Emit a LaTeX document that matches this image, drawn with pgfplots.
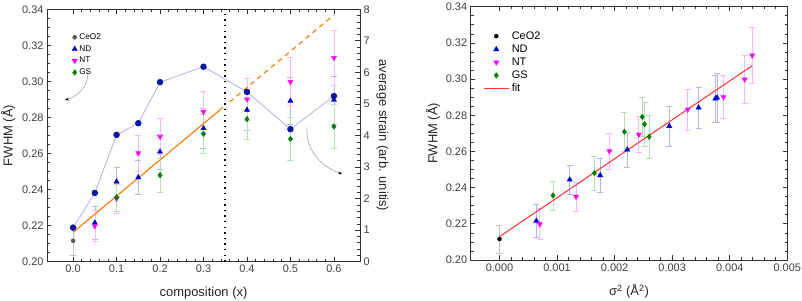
\documentclass[border=0pt]{standalone}
\usepackage{pgfplots}
\pgfplotsset{compat=1.18}
\usepackage{pgfplotstable}
\usepackage{fontspec}
\setmainfont{Liberation Sans}
\usetikzlibrary{arrows.meta}
\definecolor{axgray}{HTML}{303038}
\definecolor{tickgray}{HTML}{404040}
\definecolor{ndblue}{HTML}{0000CC}
\definecolor{ntmag}{HTML}{FF00FF}
\definecolor{gsgreen}{HTML}{008000}
\definecolor{ceogray}{HTML}{555555}
\definecolor{ndlight}{HTML}{B4B4EC}
\definecolor{ntlight}{HTML}{FFB4FF}
\definecolor{gslight}{HTML}{B4E0B4}
\definecolor{celight}{HTML}{C0C0C0}
\definecolor{strainblue}{HTML}{0A169E}
\definecolor{strainline}{HTML}{B0B0E8}
\definecolor{fitorange}{HTML}{FF8010}
\definecolor{fitred}{HTML}{FF3030}

% x = composition, y = FWHM, e = error, s = sigma^2
\pgfplotstableread{
x y e s
0.00 0.2116 0.0078 0.00000
}\ceotable
\pgfplotstableread{
x y e s
0.05 0.2216 0.0090 0.00064
0.10 0.2444 0.0082 0.00122
0.15 0.2468 0.0095 0.00175
0.20 0.2610 0.0097 0.00222
0.30 0.2740 0.0112 0.00295
0.40 0.2842 0.0115 0.00346
0.50 0.2892 0.0130 0.00375
0.60 0.2897 0.0134 0.00378
}\ndtable
\pgfplotstableread{
x y e s
0.05 0.2198 0.0085 0.00070
0.10 0.2350 0.0080 0.00133
0.15 0.2602 0.0100 0.00191
0.20 0.2693 0.0100 0.00242
0.30 0.2832 0.0113 0.00327
0.40 0.2901 0.0118 0.00389
0.50 0.2998 0.0133 0.00426
0.60 0.3131 0.0155 0.00439
}\nttable
\pgfplotstableread{
x y e s
0.10 0.2357 0.0080 0.00093
0.20 0.2480 0.0093 0.00165
0.30 0.2709 0.0110 0.00217
0.40 0.2791 0.0110 0.00248
0.50 0.2681 0.0118 0.00260
0.60 0.2750 0.0123 0.00252
}\gstable
\pgfplotstableread{
x strain
0.00 1.08
0.05 2.18
0.10 4.02
0.15 4.39
0.20 5.69
0.30 6.18
0.40 5.38
0.50 4.20
0.60 5.25
}\straintable

\pgfplotsset{
  myaxis/.style={
    scale only axis,
    anchor=south west,
    tick align=inside,
    axis line style={axgray, line width=0.8bp},
    major tick style={axgray, line width=0.7bp},
    minor tick style={axgray, line width=0.6bp},
    major tick length=4.5bp,
    minor tick length=2.8bp,
    tick label style={font=\fontsize{11}{13}\selectfont, text=tickgray},
    label style={font=\fontsize{13}{15}\selectfont, text=black!85},
    /pgf/number format/assume math mode=true,
    scaled ticks=false,
  },
  errstyle/.style={error bars/.cd, y dir=both, y explicit,
    error bar style={#1, line width=0.6bp},
    error mark options={rotate=90, #1, mark size=3bp, line width=0.6bp}},
  widelegend/.style={legend image code/.code={%
    \draw[mark repeat=2, mark phase=2, ##1] plot coordinates {(0cm,0cm) (0.45cm,0cm) (0.9cm,0cm)};}},
}

\begin{document}
\begin{tikzpicture}
\path[use as bounding box] (0,0) rectangle (802bp,301bp);

% ---------------- left panel ----------------
\begin{axis}[myaxis,
  at={(47bp,39.3bp)}, width=313bp, height=252.4bp,
  xmin=-0.06, xmax=0.66, ymin=0.20, ymax=0.34,
  xtick={0,0.1,0.2,0.3,0.4,0.5,0.6},
  ytick={0.20,0.22,0.24,0.26,0.28,0.30,0.32,0.34},
  xticklabel style={/pgf/number format/.cd, fixed, fixed zerofill, precision=1},
  yticklabel style={/pgf/number format/.cd, fixed, fixed zerofill, precision=2},
  minor x tick num=4, minor y tick num=3,
  ytick pos=left,
  xlabel={composition (x)}, ylabel={FWHM (Å)},
  xlabel style={at={(axis description cs:0.5,-0.123)}, anchor=center},
  ylabel style={at={(axis description cs:-0.124,0.5)}, anchor=center},
  legend style={draw=none, fill=none, at={(axis description cs:0.07,0.92)}, anchor=north west,
    font=\fontsize{8.3}{9}\selectfont, row sep=0.5bp},
  legend cell align=left,
]
\addplot[only marks, mark=*, mark size=2bp, ceogray, errstyle=celight]
  table[x=x, y=y, y error=e] {\ceotable};
\addlegendentry{CeO2}
\addplot[only marks, mark=triangle*, mark size=3bp, ndblue, errstyle=ndlight]
  table[x=x, y=y, y error=e] {\ndtable};
\addlegendentry{ND}
\addplot[only marks, mark=triangle*, mark options={rotate=180}, mark size=3bp, ntmag, errstyle=ntlight]
  table[x=x, y=y, y error=e] {\nttable};
\addlegendentry{NT}
\addplot[only marks, mark=diamond*, mark size=2.8bp, gsgreen, errstyle=gslight]
  table[x=x, y=y, y error=e] {\gstable};
\addlegendentry{GS}
\addplot[fitorange, line width=1.2bp, forget plot] coordinates {(0,0.2163) (0.345,0.2856)};
\addplot[fitorange, line width=1.2bp, dash pattern=on 5bp off 4bp, forget plot] coordinates {(0.36,0.2886) (0.6,0.3368)};
\addplot[black, line width=1.6bp, dash pattern=on 1.4bp off 4.2bp, forget plot] coordinates {(0.35,0.20) (0.35,0.34)};
\draw[gray!70, line width=0.6bp, -{Stealth[black,length=4bp,width=3bp]}]
  (axis cs:0.034,0.3052) to[out=-88,in=15] (axis cs:-0.019,0.2897);
\draw[gray!70, line width=0.6bp, -{Stealth[black,length=4bp,width=3bp]}]
  (axis cs:0.5376,0.2745) to[out=-92,in=160] (axis cs:0.619,0.2486);
\end{axis}

\begin{axis}[myaxis,
  at={(47bp,39.3bp)}, width=313bp, height=252.4bp,
  xmin=-0.06, xmax=0.66, ymin=0, ymax=8,
  axis x line=none, axis y line*=right,
  ytick={0,1,2,3,4,5,6,7,8}, minor y tick num=4,
  ylabel={average strain (arb. unitis)},
  ylabel style={rotate=180},
]
\addplot[strainline, line width=0.8bp, mark=*, mark size=2.8bp,
  mark options={strainblue, fill=strainblue}]
  table[x=x, y=strain] {\straintable};
\end{axis}

% ---------------- right panel ----------------
\begin{axis}[myaxis, widelegend,
  at={(470.7bp,41bp)}, width=316.6bp, height=253.3bp,
  xmin=-0.0005, xmax=0.005, ymin=0.20, ymax=0.34,
  xtick={0,0.001,0.002,0.003,0.004,0.005},
  ytick={0.20,0.22,0.24,0.26,0.28,0.30,0.32,0.34},
  xticklabel style={/pgf/number format/.cd, fixed, fixed zerofill, precision=3},
  yticklabel style={/pgf/number format/.cd, fixed, fixed zerofill, precision=2},
  minor x tick num=4, minor y tick num=3,
  xlabel={σ\textsuperscript{2} (Å\textsuperscript{2})}, ylabel={FWHM (Å)},
  xlabel style={at={(axis description cs:0.5,-0.125)}, anchor=center},
  ylabel style={at={(axis description cs:-0.119,0.5)}, anchor=center},
  legend style={draw=none, fill=none, at={(axis description cs:0.028,0.918)}, anchor=north west,
    font=\fontsize{11}{12}\selectfont, row sep=0bp},
  legend cell align=left,
]
\addplot[only marks, mark=*, mark size=2bp, black, errstyle=celight]
  table[x=s, y=y, y error=e] {\ceotable};
\addlegendentry{CeO2}
\addplot[only marks, mark=triangle*, mark size=3bp, ndblue, errstyle=ndlight]
  table[x=s, y=y, y error=e] {\ndtable};
\addlegendentry{ND}
\addplot[only marks, mark=triangle*, mark options={rotate=180}, mark size=3bp, ntmag, errstyle=ntlight]
  table[x=s, y=y, y error=e] {\nttable};
\addlegendentry{NT}
\addplot[only marks, mark=diamond*, mark size=2.8bp, gsgreen, errstyle=gslight]
  table[x=s, y=y, y error=e] {\gstable};
\addlegendentry{GS}
\addplot[fitred, line width=1bp, forget plot] coordinates {(0,0.2129) (0.00439,0.3074)};
\addlegendimage{legend image code/.code={\draw[draw=fitred, color=fitred, line width=1.5bp] (0cm,0cm) -- (0.9cm,0cm);}}
\addlegendentry{fit}
\end{axis}
\end{tikzpicture}
\end{document}
